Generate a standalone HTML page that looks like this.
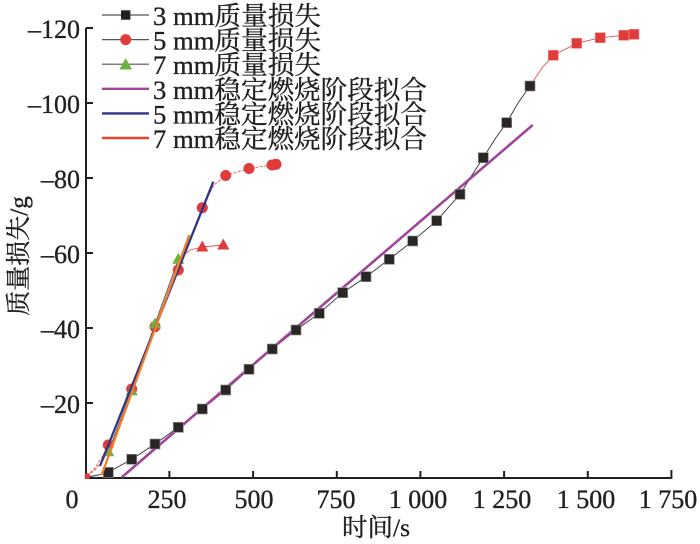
<!DOCTYPE html>
<html><head><meta charset="utf-8"><style>
html,body{margin:0;padding:0;background:#fff;}
svg{display:block;}
text{font-family:"Liberation Serif","Noto Serif CJK SC",serif;fill:#231f20;stroke:#231f20;stroke-width:0.35;}
</style></head><body>
<svg width="700" height="544" viewBox="0 0 700 544" xmlns="http://www.w3.org/2000/svg">
<rect width="700" height="544" fill="#fff"/>
<!-- axes -->
<g stroke="#231f20" stroke-width="2" fill="none">
<path d="M86 28 V478 H671.4 V470"/>
<path d="M86 28 H93 M86 103 H93 M86 178 H93 M86 253 H93 M86 328 H93 M86 403 H93"/>
<path d="M169.4 478 V471 M253.1 478 V471 M336.8 478 V471 M420.4 478 V471 M504.1 478 V471 M587.8 478 V471"/>
</g>
<!-- y tick labels -->
<g font-size="26" text-anchor="end">
<text x="80" y="38">–120</text>
<text x="80" y="113">–100</text>
<text x="80" y="188">–80</text>
<text x="80" y="263">–60</text>
<text x="80" y="338">–40</text>
<text x="80" y="413">–20</text>
</g>
<!-- x tick labels -->
<g font-size="26" text-anchor="middle">
<text x="72" y="508">0</text>
<text x="167" y="508">250</text>
<text x="254" y="508">500</text>
<text x="336" y="508">750</text>
<text x="418" y="508">1 000</text>
<text x="502" y="508">1 250</text>
<text x="586" y="508">1 500</text>
<text x="668" y="508">1 750</text>
</g>
<text x="342" y="536" font-size="25" textLength="68" lengthAdjust="spacingAndGlyphs">时间/s</text>
<text transform="translate(27,256) rotate(-90)" font-size="25" text-anchor="middle">质量损失/g</text>

<!-- connection lines -->
<g fill="none" stroke-width="0.9">
<polyline stroke="#333" points="88,477 98,475 108.3,472.3 131.7,459.3 155,444 178.3,427.3 202.3,409 225.7,390 249,369.3 272.3,349 296,330 319.3,313.3 342.7,292.7 366,276.7 389.3,259.3 412.7,241 436.7,220.7 460,194.3 472,175 483.3,157.7 495,139 506.7,122.7 518,103 530,86"/>
<polyline stroke="#e85050" points="530,86 542,68 553.3,55.3 576.7,43.3 600.3,37.7 623.7,35.3 634,34.3"/>
<polyline stroke="#e85050" stroke-dasharray="3,1.5" points="87,476 95,468 102,457 108.3,445 131.7,389 155,326.7 178.3,270 202.3,207.7 214,185 225.7,175.5 249,168.5 272,165 276,164.3"/>
<polyline stroke="#e85050" stroke-dasharray="3,1.5" points="87,476 96,469 103,460 108.3,451.7"/>
<polyline stroke="#555" points="108.3,451.7 131.7,390.7 155,324 178.3,259.3"/>
<polyline stroke="#e85050" points="178.3,259.3 190,250 202.3,247 223.3,245"/>
</g>
<circle cx="87.5" cy="476" r="3" fill="#e23b3b"/>

<!-- purple fit -->
<line x1="121.7" y1="477.3" x2="532.7" y2="125" stroke="#a0449a" stroke-width="2.6"/>

<!-- 3mm squares -->
<g fill="#2a2626" stroke="#8a8a8a" stroke-width="0.7">
<rect x="103.3" y="467.3" width="10" height="10"/>
<rect x="126.7" y="454.3" width="10" height="10"/>
<rect x="150" y="439" width="10" height="10"/>
<rect x="173.3" y="422.3" width="10" height="10"/>
<rect x="197.3" y="404" width="10" height="10"/>
<rect x="220.7" y="385" width="10" height="10"/>
<rect x="244" y="364.3" width="10" height="10"/>
<rect x="267.3" y="344" width="10" height="10"/>
<rect x="291" y="325" width="10" height="10"/>
<rect x="314.3" y="308.3" width="10" height="10"/>
<rect x="337.7" y="287.7" width="10" height="10"/>
<rect x="361" y="271.7" width="10" height="10"/>
<rect x="384.3" y="254.3" width="10" height="10"/>
<rect x="407.7" y="236" width="10" height="10"/>
<rect x="431.7" y="215.7" width="10" height="10"/>
<rect x="455" y="189.3" width="10" height="10"/>
<rect x="478.3" y="152.7" width="10" height="10"/>
<rect x="501.7" y="117.7" width="10" height="10"/>
<rect x="525" y="81" width="10" height="10"/>
</g>
<g fill="#e03c3c" stroke="#f08080" stroke-width="0.6">
<rect x="548.3" y="50.3" width="10" height="10"/>
<rect x="571.7" y="38.3" width="10" height="10"/>
<rect x="595.3" y="32.7" width="10" height="10"/>
<rect x="618.7" y="30.3" width="10" height="10"/>
<rect x="629" y="29.3" width="10" height="10"/>
</g>

<!-- 5mm circles -->
<g fill="#e23b3b">
<circle cx="108.3" cy="445" r="5.5"/>
<circle cx="131.7" cy="389" r="5.5"/>
<circle cx="155" cy="326.7" r="5.5"/>
<circle cx="178.3" cy="270" r="5.5"/>
<circle cx="202.3" cy="207.7" r="5.5"/>
<circle cx="225.7" cy="175.5" r="5.5"/>
<circle cx="249" cy="168.5" r="5.5"/>
<circle cx="272" cy="165" r="5.5"/>
<circle cx="276" cy="164.3" r="5.5"/>
</g>
<!-- 7mm triangles -->
<g fill="#6ab23e">
<path d="M108.3 445.2 L114.3 456.2 L102.3 456.2 Z"/>
<path d="M131.7 384.2 L137.7 395.2 L125.7 395.2 Z"/>
<path d="M155 317.5 L161 328.5 L149 328.5 Z"/>
<path d="M178.3 252.8 L184.3 263.8 L172.3 263.8 Z"/>
</g>
<g fill="#e23b3b">
<path d="M202.3 240.5 L208.3 251.5 L196.3 251.5 Z"/>
<path d="M223.3 238.5 L229.3 249.5 L217.3 249.5 Z"/>
</g>

<!-- blue and orange fits -->
<line x1="100" y1="466" x2="213.3" y2="181.7" stroke="#2e3487" stroke-width="2.3"/>
<line x1="101.7" y1="475" x2="189.3" y2="235" stroke="#ef7d2a" stroke-width="2.3"/>

<!-- legend -->
<g stroke-width="1.2">
<line x1="102" y1="15" x2="149" y2="15" stroke="#555"/>
<line x1="102" y1="39.6" x2="149" y2="39.6" stroke="#555"/>
<line x1="102" y1="64.2" x2="149" y2="64.2" stroke="#555"/>
</g>
<rect x="121" y="10.3" width="9.4" height="9.4" fill="#231f20"/>
<circle cx="125.7" cy="39.6" r="5.5" fill="#e23b3b"/>
<path d="M125.7 58 L132 69.5 L119.4 69.5 Z" fill="#6ab23e"/>
<line x1="102" y1="88.8" x2="149" y2="88.8" stroke="#a0449a" stroke-width="2.4"/>
<line x1="102" y1="113.4" x2="149" y2="113.4" stroke="#2e3487" stroke-width="2.4"/>
<line x1="102" y1="138" x2="149" y2="138" stroke="#e8452a" stroke-width="2.4"/>
<g font-size="26" lengthAdjust="spacingAndGlyphs">
<text x="153" y="25" textLength="168" lengthAdjust="spacingAndGlyphs">3 mm质量损失</text>
<text x="153" y="49.6" textLength="168" lengthAdjust="spacingAndGlyphs">5 mm质量损失</text>
<text x="153" y="74.2" textLength="168" lengthAdjust="spacingAndGlyphs">7 mm质量损失</text>
<text x="153" y="98.8" textLength="274" lengthAdjust="spacingAndGlyphs">3 mm稳定燃烧阶段拟合</text>
<text x="153" y="123.4" textLength="274" lengthAdjust="spacingAndGlyphs">5 mm稳定燃烧阶段拟合</text>
<text x="153" y="148" textLength="274" lengthAdjust="spacingAndGlyphs">7 mm稳定燃烧阶段拟合</text>
</g>
</svg>
</body></html>
